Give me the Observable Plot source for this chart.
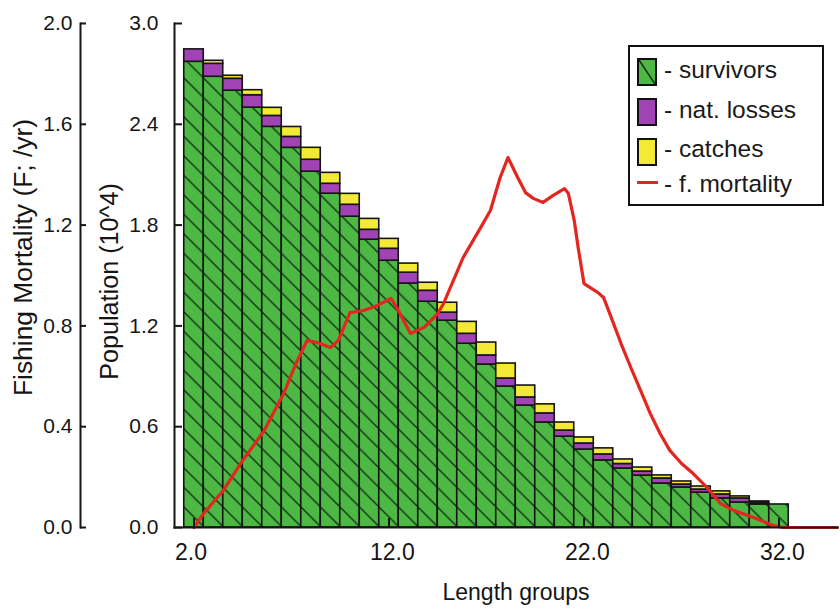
<!DOCTYPE html>
<html><head><meta charset="utf-8">
<script src="https://cdn.jsdelivr.net/npm/d3@7"></script>
<script src="https://cdn.jsdelivr.net/npm/@observablehq/plot@0.6"></script>
<style>
html,body{margin:0;padding:0;background:#fff;}
#wrap{position:relative;width:840px;height:609px;font-family:"Liberation Sans",Arial,sans-serif;color:#1a1a1a;}
#wrap svg{position:absolute;left:0;top:0;}
#legend{position:absolute;left:628px;top:45px;width:196px;height:161px;box-sizing:border-box;border:2px solid #111;background:#fff;}
.sw{position:absolute;left:7px;width:20px;height:28px;box-sizing:border-box;border:2px solid #111;}
.ln{position:absolute;left:7px;width:21px;height:3.5px;}
.lt{position:absolute;left:34px;font-size:24.5px;line-height:24px;white-space:nowrap;}
</style></head><body><div id="wrap"></div>
<script>
// ---- data ----
const lengths = [2,3,4,5,6,7,8,9,10,11,12,13,14,15,16,17,18,19,20,21,22,23,24,25,26,27,28,29,30,31,32];
const survivors = [2.772,2.683,2.600,2.499,2.385,2.260,2.118,1.987,1.850,1.713,1.588,1.452,1.344,1.231,1.094,0.970,0.839,0.726,0.625,0.541,0.464,0.399,0.351,0.309,0.262,0.238,0.208,0.173,0.149,0.137,0.137];
const natLosses = [0.074,0.077,0.071,0.074,0.065,0.065,0.071,0.059,0.071,0.059,0.071,0.065,0.065,0.048,0.059,0.054,0.048,0.048,0.054,0.036,0.036,0.036,0.027,0.024,0.030,0.018,0.018,0.024,0.024,0.009,0];
const catches = [0,0.018,0.018,0.030,0.048,0.059,0.071,0.065,0.065,0.065,0.059,0.054,0.048,0.059,0.071,0.077,0.089,0.071,0.054,0.048,0.036,0.036,0.027,0.024,0.018,0.018,0.018,0.018,0.012,0.009,0];
const fLength = [2.0,2.5,3.5,4.5,5.6,6.6,7.3,7.8,8.3,9.0,9.4,10.0,10.7,11.4,12.1,12.4,13.1,13.8,14.5,14.8,15.8,16.7,17.2,17.7,18.1,18.6,19.0,19.4,19.9,20.4,21.0,21.2,21.5,21.7,22.0,22.7,23.0,23.4,23.9,24.4,24.9,25.4,25.9,26.4,27.0,27.6,28.3,29.0,29.7,30.7,31.7,32.2,35.0];
const fMortality = [0,0.056,0.147,0.266,0.385,0.532,0.663,0.742,0.734,0.714,0.742,0.853,0.861,0.881,0.909,0.873,0.770,0.794,0.849,0.889,1.071,1.190,1.258,1.389,1.468,1.389,1.329,1.306,1.290,1.317,1.345,1.325,1.218,1.111,0.968,0.933,0.913,0.833,0.730,0.635,0.544,0.452,0.373,0.306,0.254,0.214,0.159,0.095,0.067,0.040,0.008,0,0];
const xTicks = [2,12,22,32];
const popTicks = [0,0.6,1.2,1.8,2.4,3.0];
const fTicks = [0,0.4,0.8,1.2,1.6,2.0];
const seriesNames = ["survivors","nat. losses","catches"];
const legendLabels = ["- survivors","- nat. losses","- catches","- f. mortality"];
const xTitle = "Length groups";
const popTitle = "Population (10^4)";
const fTitle = "Fishing Mortality (F; /yr)";

// ---- styles ----
const green = "#4db944", purple = "#a142b5", yellow = "#f2ea34", red = "#e3261f", ink = "#151515";
const popMax = 3.0, fMax = 2.0, ratio = popMax / fMax;

const rows = [];
lengths.forEach((len, i) => {
  rows.push({len, series: seriesNames[0], value: survivors[i]});
  rows.push({len, series: seriesNames[1], value: natLosses[i]});
  rows.push({len, series: seriesNames[2], value: catches[i]});
});
const fRows = fLength.map((len, i) => ({len, f: fMortality[i]}));

const chart = Plot.plot({
  width: 840, height: 609,
  marginTop: 23, marginBottom: 82, marginLeft: 174, marginRight: 3,
  x: {domain: [1, 35], label: null},
  y: {domain: [0, popMax], label: null},
  color: {domain: seriesNames, range: ["url(#hatch)", purple, yellow]},
  style: {fontFamily: '"Liberation Sans", Arial, sans-serif', color: ink, background: "transparent", overflow: "visible"},
  marks: [
    Plot.rectY(rows, {x1: d => d.len - 0.5, x2: d => d.len + 0.5, y: "value", fill: "series", stroke: ink, strokeWidth: 1.6}),
    Plot.line(fRows, {x: "len", y: d => d.f * ratio, stroke: red, strokeWidth: 3.2}),
    Plot.frame({anchor: "left", strokeWidth: 2}),
    Plot.frame({anchor: "bottom", strokeWidth: 2}),
    Plot.frame({anchor: "left", dx: -94, strokeWidth: 2}),
    Plot.axisY(popTicks, {anchor: "left", tickSize: -8, tickPadding: 24, strokeWidth: 2, tickFormat: d => d.toFixed(1), label: null, fontSize: 21}),
    Plot.axisY(fTicks.map(f => f * ratio), {anchor: "left", dx: -94, tickSize: -6, tickPadding: 14, strokeWidth: 2, tickFormat: d => (d / ratio).toFixed(1), label: null, fontSize: 21}),
    Plot.axisX(xTicks, {anchor: "bottom", tickSize: -9, strokeWidth: 2, fill: "none", label: null}),
    Plot.axisX(xTicks, {anchor: "bottom", tickSize: 0, tickPadding: 16, dx: -19, textAnchor: "start", tickFormat: d => d.toFixed(1), label: null, fontSize: 23}),
    Plot.text([fTitle], {frameAnchor: "left", textAnchor: "middle", rotate: -90, lineAnchor: "top", dx: -161, dy: -18, fontSize: 26.4}),
    Plot.text([popTitle], {frameAnchor: "left", textAnchor: "middle", rotate: -90, lineAnchor: "top", dx: -74, dy: 6, fontSize: 25.2}),
    Plot.text([xTitle], {frameAnchor: "bottom", textAnchor: "middle", lineAnchor: "middle", dx: 10, dy: 65, fontSize: 23})
  ]
});

// hatch pattern for survivors
const svg = d3.select(chart);
const pat = svg.insert("defs", ":first-child").append("pattern")
  .attr("id", "hatch").attr("patternUnits", "userSpaceOnUse")
  .attr("x", 184).attr("y", 0).attr("width", 19.5).attr("height", 19.5);
pat.append("rect").attr("width", 19.5).attr("height", 19.5).attr("fill", green);
pat.append("path").attr("d", "M0,0L19.5,19.5M-2,17.5L2,21.5M17.5,-2L21.5,2")
  .attr("stroke", "#0c2a10").attr("stroke-width", 1.3);

const wrap = document.getElementById("wrap");
wrap.appendChild(chart);

// legend (HTML overlay)
const legend = document.createElement("div");
legend.id = "legend";
const swTops = [11, 51, 91];
const txtTops = [11, 51, 90, 125];
const swFill = [green, purple, yellow];
swFill.forEach((c, i) => {
  const s = document.createElement("div");
  s.className = "sw"; s.style.top = swTops[i] + "px"; s.style.background = c;
  if (i === 0) {
    s.innerHTML = '<svg width="16" height="24" style="position:absolute;left:0;top:0"><line x1="0" y1="0" x2="16" y2="24" stroke="#0c2a10" stroke-width="1.5"/></svg>';
  }
  legend.appendChild(s);
});
const ln = document.createElement("div");
ln.className = "ln"; ln.style.top = "133.5px"; ln.style.background = red;
legend.appendChild(ln);
legendLabels.forEach((t, i) => {
  const d = document.createElement("div");
  d.className = "lt"; d.style.top = txtTops[i] + "px"; d.textContent = t;
  legend.appendChild(d);
});
wrap.appendChild(legend);
</script></body></html>
